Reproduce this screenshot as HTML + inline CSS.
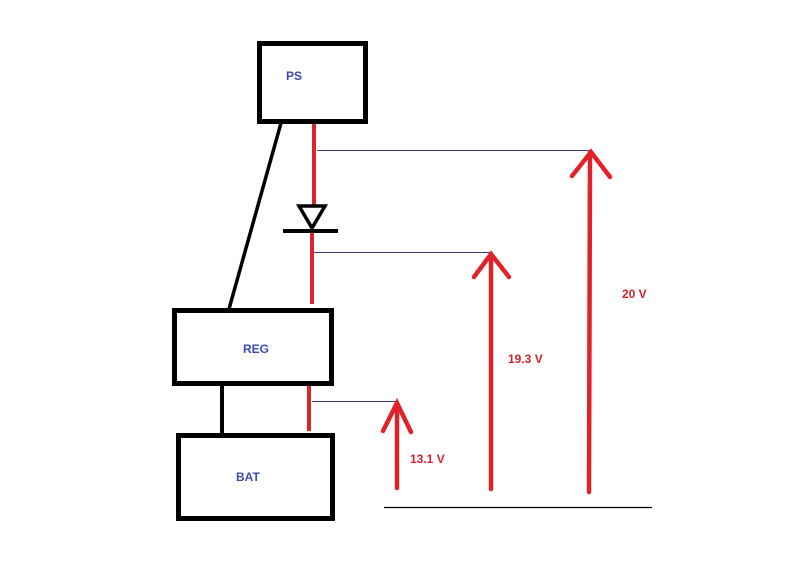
<!DOCTYPE html>
<html><head><meta charset="utf-8"><style>
html,body{margin:0;padding:0;background:#fff;}
svg{display:block;}
text{font-family:"Liberation Sans",sans-serif;font-weight:bold;font-size:12px;}
</style></head><body>
<svg width="786" height="575" viewBox="0 0 786 575" xmlns="http://www.w3.org/2000/svg">
<rect width="786" height="575" fill="#fff"/>
<!-- boxes -->
<rect x="259.5" y="43.5" width="106" height="78" fill="none" stroke="#000" stroke-width="5"/>
<rect x="174.5" y="310.5" width="157" height="73" fill="none" stroke="#000" stroke-width="5"/>
<rect x="178.5" y="435.5" width="154" height="83" fill="none" stroke="#000" stroke-width="5"/>
<!-- black connectors -->
<line x1="281" y1="123" x2="229" y2="309" stroke="#000" stroke-width="3.5"/>
<line x1="222" y1="386" x2="222" y2="433" stroke="#000" stroke-width="4"/>
<!-- red wires -->
<line x1="314" y1="124" x2="314" y2="207" stroke="#e0222a" stroke-width="4"/>
<line x1="312" y1="233" x2="312" y2="304" stroke="#e0222a" stroke-width="4"/>
<line x1="309" y1="386" x2="309" y2="431" stroke="#e0222a" stroke-width="4"/>
<!-- diode -->
<polygon points="299,206 325,206 312,228" fill="none" stroke="#000" stroke-width="3.5"/>
<line x1="283" y1="231" x2="338" y2="231" stroke="#000" stroke-width="4"/>
<!-- blue leaders -->
<line x1="317" y1="150.5" x2="590" y2="150.5" stroke="#3a3f8a" stroke-width="1"/>
<line x1="314" y1="252.5" x2="490" y2="252.5" stroke="#3a3f8a" stroke-width="1"/>
<line x1="312" y1="401.5" x2="397" y2="401.5" stroke="#3a3f8a" stroke-width="1"/>
<!-- arrows -->
<g stroke="#e0222a" stroke-width="4.5" fill="none" stroke-linecap="round">
<line x1="590" y1="152" x2="589" y2="492"/>
<polyline points="572,176 591,152 610,177"/>
<line x1="491" y1="254" x2="491" y2="489"/>
<polyline points="474,277 491,254 509,277"/>
<line x1="397" y1="403" x2="397" y2="488"/>
<polyline points="383,431 397,403 411,432"/>
</g>
<line x1="384" y1="507.5" x2="652" y2="507.5" stroke="#000" stroke-width="1.2"/>
<!-- labels -->
<text x="286" y="80" fill="#3a4bb0">PS</text>
<text x="243" y="353" fill="#3a4bb0">REG</text>
<text x="236" y="481" fill="#3a4bb0">BAT</text>
<text x="622" y="298" fill="#d4232b">20 V</text>
<text x="508" y="363" fill="#d4232b">19.3 V</text>
<text x="410" y="463" fill="#d4232b">13.1 V</text>
</svg>
</body></html>
